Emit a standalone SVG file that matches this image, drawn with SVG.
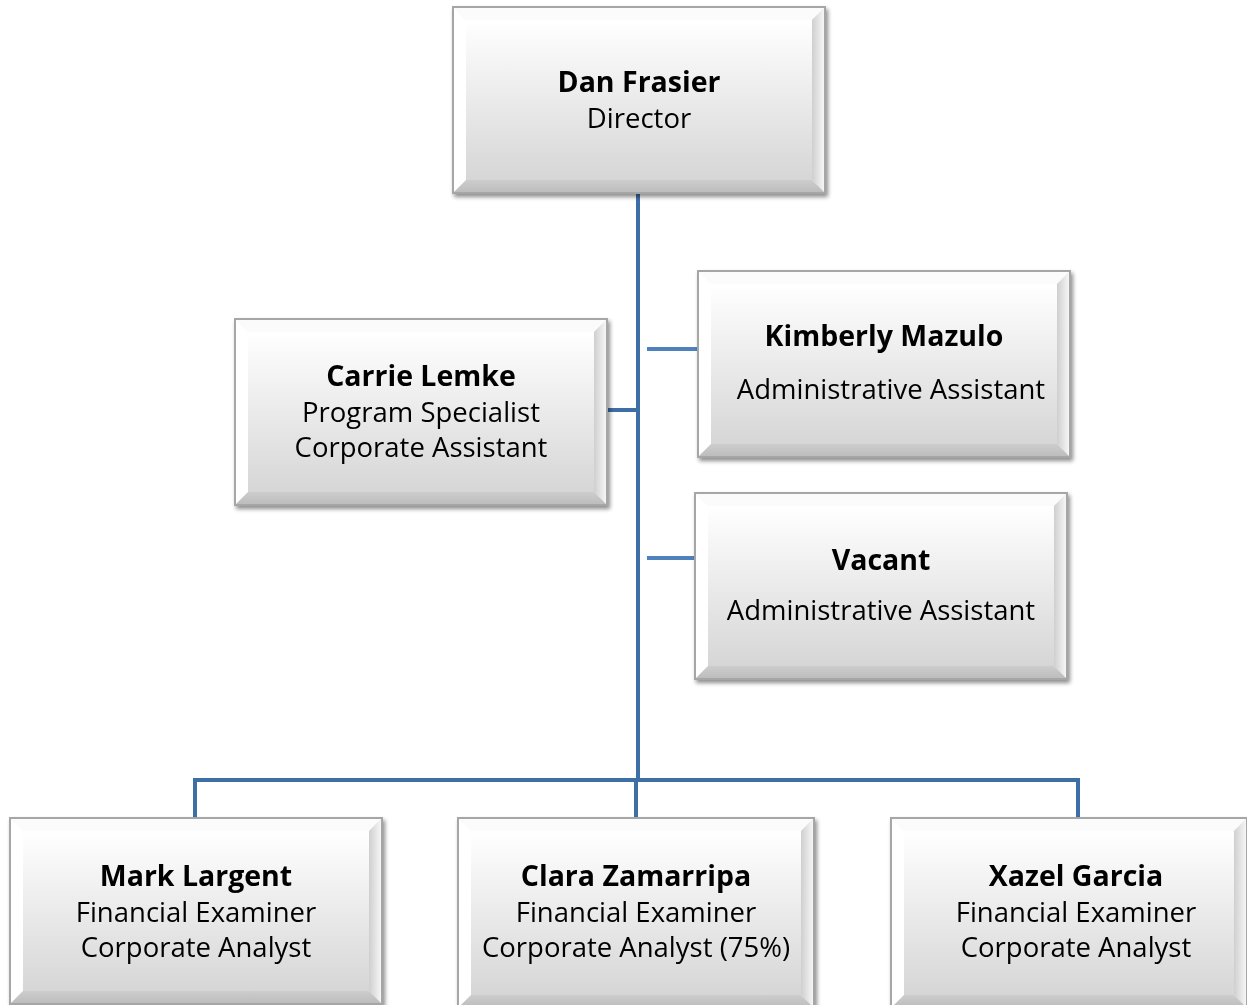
<svg xmlns="http://www.w3.org/2000/svg" width="1247" height="1005" viewBox="0 0 1247 1005">
  <defs>
    <linearGradient id="face" x1="0" y1="0" x2="0" y2="1">
      <stop offset="0" stop-color="#ffffff"/>
      <stop offset="1" stop-color="#d6d6d6"/>
    </linearGradient>
    <linearGradient id="bevR" x1="0" y1="0" x2="1" y2="0">
      <stop offset="0" stop-color="#cfcfcf"/>
      <stop offset="1" stop-color="#f6f6f6"/>
    </linearGradient>
    <linearGradient id="bevB" x1="0" y1="0" x2="0" y2="1">
      <stop offset="0" stop-color="#cdcdcd"/>
      <stop offset="1" stop-color="#bdbdbd"/>
    </linearGradient>
    <filter id="shadow" x="-5%" y="-5%" width="112%" height="115%">
      <feGaussianBlur in="SourceAlpha" stdDeviation="2"/>
      <feOffset dx="2" dy="3" result="b"/>
      <feComponentTransfer><feFuncA type="linear" slope="0.45"/></feComponentTransfer>
      <feMerge><feMergeNode/><feMergeNode in="SourceGraphic"/></feMerge>
    </filter>
    <!-- bevelled box, 372 x 186 -->
    <g id="box">
      <rect x="0" y="0" width="372" height="186" fill="#f2f2f2" stroke="#a6a6a6" stroke-width="2"/>
      <rect x="13" y="13" width="346" height="160" fill="url(#face)"/>
      <polygon points="1,1 371,1 359,13 13,13" fill="#fbfbfb"/>
      <polygon points="1,1 13,13 13,173 1,185" fill="#ffffff"/>
      <polygon points="371,1 371,185 359,173 359,13" fill="url(#bevR)"/>
      <polygon points="1,185 13,173 359,173 371,185" fill="url(#bevB)"/>
    </g>
    <!-- narrower bevelled box, 356 x 190 -->
    <g id="boxN">
      <rect x="0" y="0" width="356" height="190" fill="#f2f2f2" stroke="#a6a6a6" stroke-width="2"/>
      <rect x="13" y="13" width="330" height="164" fill="url(#face)"/>
      <polygon points="1,1 355,1 343,13 13,13" fill="#fbfbfb"/>
      <polygon points="1,1 13,13 13,177 1,189" fill="#ffffff"/>
      <polygon points="355,1 355,189 343,177 343,13" fill="url(#bevR)"/>
      <polygon points="1,189 13,177 343,177 355,189" fill="url(#bevB)"/>
    </g>
  </defs>
  <style>
    text { font-family: "Open Sans", "Noto Sans", "Liberation Sans", sans-serif; fill: #000; text-anchor: middle; }
    .name { font-weight: bold; font-size: 28.5px; }
    .role { font-size: 27.5px; }
    .main { stroke: #3e6ea6; stroke-width: 4; fill: none; }
    .side { stroke: #4f81bd; stroke-width: 4; fill: none; }
  </style>
  <rect width="1247" height="1005" fill="#ffffff"/>

  <g id="connectors">
    <path class="main" d="M638,192 V780"/>
    <path class="main" d="M195,818 V780 H1078 V818"/>
    <path class="main" d="M636,780 V818"/>
    <path class="main" d="M607,410 H638"/>
    <path class="side" d="M647,349 H698"/>
    <path class="side" d="M647,558 H695"/>
  </g>

  <g id="dan-frasier" filter="url(#shadow)">
    <use href="#box" x="453" y="7"/>
    <text class="name" x="639" y="92">Dan Frasier</text>
    <text class="role" x="639" y="128">Director</text>
  </g>

  <g id="carrie-lemke" filter="url(#shadow)">
    <use href="#box" x="235" y="319"/>
    <text class="name" x="421" y="386">Carrie Lemke</text>
    <text class="role" x="421" y="422">Program Specialist</text>
    <text class="role" x="421" y="457">Corporate Assistant</text>
  </g>

  <g id="kimberly-mazulo" filter="url(#shadow)">
    <use href="#box" x="698" y="271"/>
    <text class="name" x="884" y="346">Kimberly Mazulo</text>
    <text class="role" x="891" y="399">Administrative Assistant</text>
  </g>

  <g id="vacant" filter="url(#shadow)">
    <use href="#box" x="695" y="493"/>
    <text class="name" x="881" y="570">Vacant</text>
    <text class="role" x="881" y="620">Administrative Assistant</text>
  </g>

  <g id="mark-largent" filter="url(#shadow)">
    <use href="#box" x="10" y="818"/>
    <text class="name" x="196" y="886">Mark Largent</text>
    <text class="role" x="196" y="922">Financial Examiner</text>
    <text class="role" x="196" y="957">Corporate Analyst</text>
  </g>

  <g id="clara-zamarripa" filter="url(#shadow)">
    <use href="#boxN" x="458" y="818"/>
    <text class="name" x="636" y="886">Clara Zamarripa</text>
    <text class="role" x="636" y="922">Financial Examiner</text>
    <text class="role" x="636" y="957">Corporate Analyst (75%)</text>
  </g>

  <g id="xazel-garcia" filter="url(#shadow)">
    <use href="#boxN" x="891" y="818"/>
    <text class="name" x="1076" y="886">Xazel Garcia</text>
    <text class="role" x="1076" y="922">Financial Examiner</text>
    <text class="role" x="1076" y="957">Corporate Analyst</text>
  </g>
</svg>
